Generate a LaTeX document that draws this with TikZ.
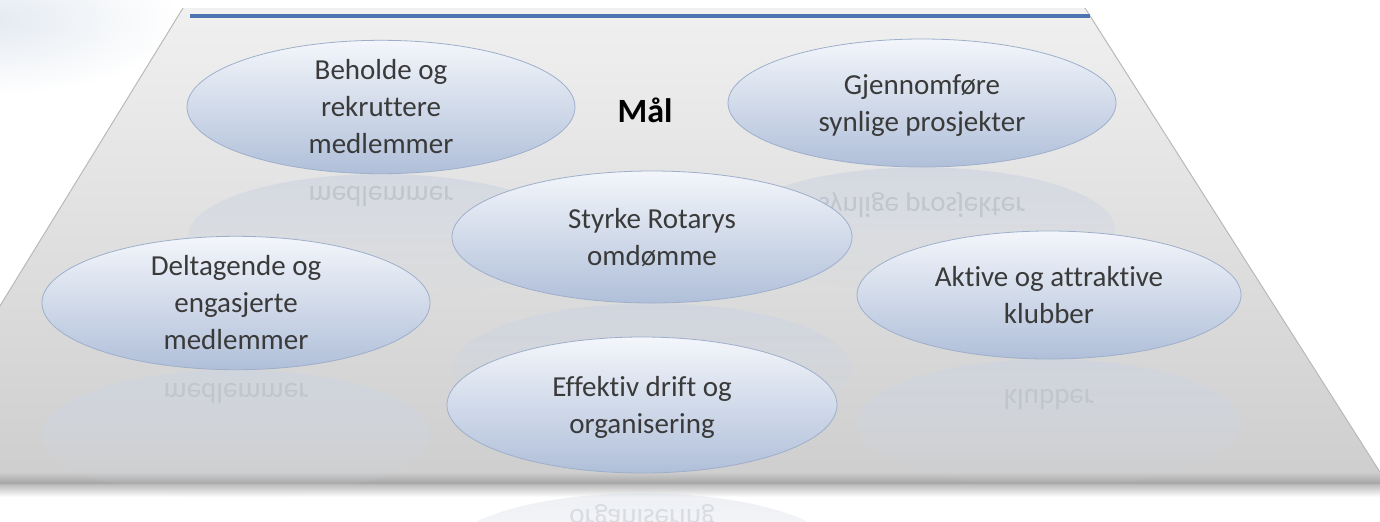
\documentclass[tikz,border=0pt]{standalone}
\usepackage{fontspec}
\setmainfont[Ligatures=CommonOff]{Carlito}
\usepackage{tikz}
\usetikzlibrary{shapes.geometric,fadings}

\definecolor{goaltop}{RGB}{243,246,251}
\definecolor{goalbottom}{RGB}{176,191,217}
\definecolor{goalline}{RGB}{158,175,203}
\definecolor{goaltext}{RGB}{58,58,58}
\definecolor{reflblue}{RGB}{206,213,225}
\definecolor{refltext}{RGB}{192,197,206}
\definecolor{slabtop}{RGB}{240,240,240}
\definecolor{slabbottom}{RGB}{206,206,206}
\definecolor{rimblue}{RGB}{74,116,178}
\definecolor{blobcol}{RGB}{228,234,241}

\tikzfading[name=reflfade,top color=transparent!30,bottom color=transparent!100]
\tikzfading[name=blobfade,inner color=transparent!0,outer color=transparent!100]
\pgfdeclarelayer{slab}
\pgfdeclarelayer{refl}
\pgfsetlayers{slab,refl,main}

\begin{document}
\begin{tikzpicture}[x=0.5pt,y=-0.5pt,
    goal/.style={ellipse,draw=goalline,line width=0.4pt,top color=goaltop,bottom color=goalbottom,
      minimum width=194pt,minimum height=64pt,inner sep=0pt,align=center,text=goaltext,
      font=\fontsize{14.5}{18.5}\selectfont},
    flat/.style={text depth=#1},flat/.default=0pt,
    mirror/.style={yscale=-1,text=refltext,font=\fontsize{14.5}{18.5}\selectfont},
    refl/.style={fill=reflblue,path fading=reflfade}]
  \useasboundingbox (0,0) rectangle (1380,521);
  \clip (0,0) rectangle (1380,521);

  %faint blob up left, then the slab itself
  \begin{pgfonlayer}{slab}
  \fill[blobcol,path fading=blobfade] (-10,20) ellipse (190 and 75);
  \shade[top color=slabtop,bottom color=slabbottom] (183,8) -- (1085,8) -- (1385,480) -- (-107,480) -- cycle;
  \draw[gray!55,line width=0.5pt] (183,8) -- (-107,480) (1085,8) -- (1385,480);
  \draw[rimblue,line width=2pt] (190,16) -- (1090,16);
  \shade[top color=slabbottom,bottom color=gray!72] (0,472) rectangle (1380,484);
  \shade[top color=gray!55,bottom color=white] (0,484) rectangle (1380,497);
  \end{pgfonlayer}

  %the goals
  \node[goal] (beholde) at (381,107) {Beholde og\\rekruttere\\medlemmer};
  \node[goal,flat] (gjennomfore) at (922,103) {Gjennomføre\\synlige prosjekter};
  \node[goal,flat=-3pt,minimum width=200pt,minimum height=66pt] (styrke) at (652,237) {Styrke Rotarys\\omdømme};
  \node[goal,minimum height=65pt] (deltagende) at (236,303) {Deltagende og\\engasjerte\\medlemmer};
  \node[goal,flat=-4pt,minimum width=192pt] (aktive) at (1049,295) {Aktive og attraktive\\klubber};
  \node[goal,flat=-4pt,minimum width=195pt,minimum height=68pt] (effektiv) at (642,405) {Effektiv drift og\\organisering};
  \node[font=\fontsize{17}{20}\selectfont\bfseries] (maal) at (645,110) {Mål};

  %reflections, behind the goals
  \begin{pgfonlayer}{refl}
  \fill[refl] ([yshift=-31pt]beholde.south) ellipse (193 and 62);
  \fill[refl] ([yshift=-31pt]gjennomfore.south) ellipse (193 and 62);
  \fill[refl] ([yshift=-32pt]deltagende.south) ellipse (194 and 64);
  \fill[refl] ([yshift=-32pt]aktive.south) ellipse (192 and 64);
  \fill[refl] ([yshift=-33pt]styrke.south) ellipse (200 and 66);
  \fill[refl,fill opacity=0.5] ([yshift=-40pt]effektiv.south) ellipse (195 and 60);
  \node[mirror] (beholderef) at ([yshift=-11pt]beholde.south) {medlemmer};
  \node[mirror] (gjennomforeref) at ([yshift=-19pt]gjennomfore.south) {synlige prosjekter};
  \node[mirror] (deltagenderef) at ([yshift=-11.5pt]deltagende.south) {medlemmer};
  \node[mirror] (aktiveref) at ([yshift=-20pt]aktive.south) {klubber};
  \node[mirror,text=refltext!60] (effektivref) at ([yshift=-22pt]effektiv.south) {organisering};
  \end{pgfonlayer}
\end{tikzpicture}
\end{document}
